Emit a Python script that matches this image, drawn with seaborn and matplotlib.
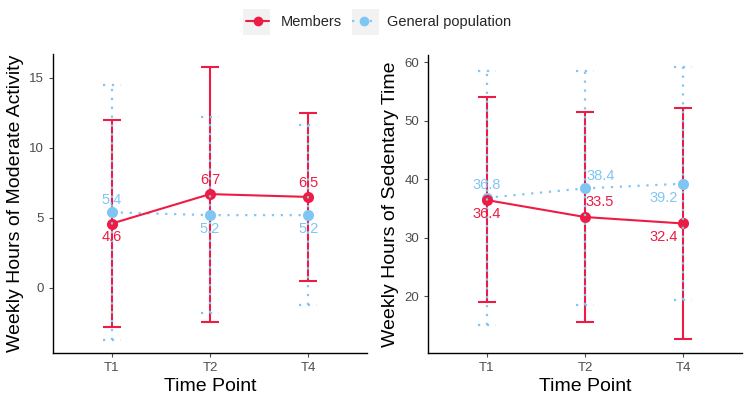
import matplotlib
matplotlib.use("Agg")
import matplotlib.pyplot as plt
import seaborn as sns
import pandas as pd
import numpy as np
from matplotlib.lines import Line2D
from matplotlib.patches import Rectangle

sns.set_theme(style="ticks")
plt.rcParams['font.family'] = ['Liberation Sans', 'DejaVu Sans']

time_points = ["T1", "T2", "T4"]
groups = ["Members", "General population"]

# Moderate activity
mod_members_mean = [4.6, 6.7, 6.5]
mod_members_lo = [-2.8, -2.4, 0.5]
mod_members_hi = [12.0, 15.8, 12.5]
mod_general_mean = [5.4, 5.2, 5.2]
mod_general_lo = [-3.7, -1.8, -1.2]
mod_general_hi = [14.5, 12.2, 11.6]

# Sedentary time
sed_members_mean = [36.4, 33.5, 32.4]
sed_members_lo = [18.9, 15.6, 12.6]
sed_members_hi = [54.0, 51.5, 52.2]
sed_general_mean = [36.8, 38.4, 39.2]
sed_general_lo = [15.1, 18.4, 19.3]
sed_general_hi = [58.4, 58.4, 59.1]

RED = "#EE1C44"
BLUE = "#80C6F4"
colors = {"Members": RED, "General population": BLUE}
dot = (0, (1, 3))

def make_df(mm, ml, mh, gm, gl, gh):
    rows = []
    for g, m, l, h in [("Members", mm, ml, mh), ("General population", gm, gl, gh)]:
        for i, t in enumerate(time_points):
            rows.append(dict(group=g, time=t, pos=i, mean=m[i], lo=l[i], hi=h[i]))
    return pd.DataFrame(rows)

df_mod = make_df(mod_members_mean, mod_members_lo, mod_members_hi,
                 mod_general_mean, mod_general_lo, mod_general_hi)
df_sed = make_df(sed_members_mean, sed_members_lo, sed_members_hi,
                 sed_general_mean, sed_general_lo, sed_general_hi)

fig = plt.figure(figsize=(7.5, 4.04), dpi=100)
ax1 = fig.add_axes([53/750, 1-353/404, 314/750, 299/404])
ax2 = fig.add_axes([428/750, 1-353/404, 314/750, 298/404])

def draw(ax, df, ylabel, ylim, yticks, label_offsets):
    capw = 0.09
    for g in ["Members", "General population"]:
        d = df[df.group == g]
        ls = "-" if g == "Members" else dot
        c = colors[g]
        lw = 1.5 if g == "Members" else 1.6
        z = 2 if g == "Members" else 4
        ax.vlines(d.pos, d.lo, d.hi, color=c, lw=lw, linestyles=[ls], zorder=z)
        ax.hlines(d.lo, d.pos - capw, d.pos + capw, color=c, lw=lw, linestyles=[ls], zorder=z)
        ax.hlines(d.hi, d.pos - capw, d.pos + capw, color=c, lw=lw, linestyles=[ls], zorder=z)
    dm = df[df.group == "Members"]
    dg = df[df.group == "General population"]
    sns.lineplot(data=dg, x="pos", y="mean", color=BLUE, lw=1.6, linestyle=dot,
                 marker="o", markersize=8, markeredgewidth=0, ax=ax, zorder=3, legend=False)
    sns.lineplot(data=dm, x="pos", y="mean", color=RED, lw=1.5,
                 marker="o", markersize=8, markeredgewidth=0, ax=ax, zorder=3, legend=False)
    for (g, i), (dx, dy, ha) in label_offsets.items():
        d = df[(df.group == g) & (df.pos == i)].iloc[0]
        ax.annotate(f"{d['mean']:.1f}", (d.pos, d["mean"]), xytext=(dx, dy),
                    textcoords="offset points", ha=ha, va="center",
                    color=colors[g], fontsize=10.5, zorder=6)
    ax.set_xlim(-0.6, 2.6)
    ax.set_ylim(*ylim)
    ax.set_xticks(range(3))
    ax.set_xticklabels(time_points)
    ax.set_yticks(yticks)
    ax.set_xlabel("Time Point", fontsize=14, color="black", labelpad=3)
    ax.set_ylabel(ylabel, fontsize=14, color="black", labelpad=4)
    ax.tick_params(labelsize=9.5, colors="#4D4D4D", length=3, width=0.8)
    for s in ["top", "right"]:
        ax.spines[s].set_visible(False)
    for s in ["left", "bottom"]:
        ax.spines[s].set_linewidth(1.0)
        ax.spines[s].set_color("black")

draw(ax1, df_mod, "Weekly Hours of Moderate Activity", (-4.64, 16.7), [0, 5, 10, 15],
     {("Members", 0): (0, -10, "center"), ("General population", 0): (0, 9, "center"),
      ("Members", 1): (0, 10, "center"), ("General population", 1): (0, -10, "center"),
      ("Members", 2): (0, 10, "center"), ("General population", 2): (0, -10, "center")})
draw(ax2, df_sed, "Weekly Hours of Sedentary Time", (10.26, 61.2), [20, 30, 40, 50, 60],
     {("Members", 0): (0, -10, "center"), ("General population", 0): (0, 9, "center"),
      ("Members", 1): (0, 11, "left"), ("General population", 1): (1, 9, "left"),
      ("Members", 2): (-14, -10, "center"), ("General population", 2): (-14, -10, "center")})

# legend key backgrounds
for x0 in (243, 352):
    fig.patches.append(Rectangle((x0/750, 1-35/404), 27/750, 26/404, transform=fig.transFigure,
                                 facecolor="#F2F2F2", edgecolor="none", zorder=0))

handles = [Line2D([], [], color=RED, lw=1.5, marker="o", markersize=7, markeredgewidth=0),
           Line2D([], [], color=BLUE, lw=1.6, linestyle=dot, marker="o", markersize=7, markeredgewidth=0)]
leg = fig.legend(handles, groups, loc="center", bbox_to_anchor=(0.505, 1-22/404),
                 ncol=2, frameon=False, fontsize=10.5, handlelength=1.6, columnspacing=0.7,
                 handletextpad=0.8)

fig.savefig("out.png", dpi=100, facecolor="white")
